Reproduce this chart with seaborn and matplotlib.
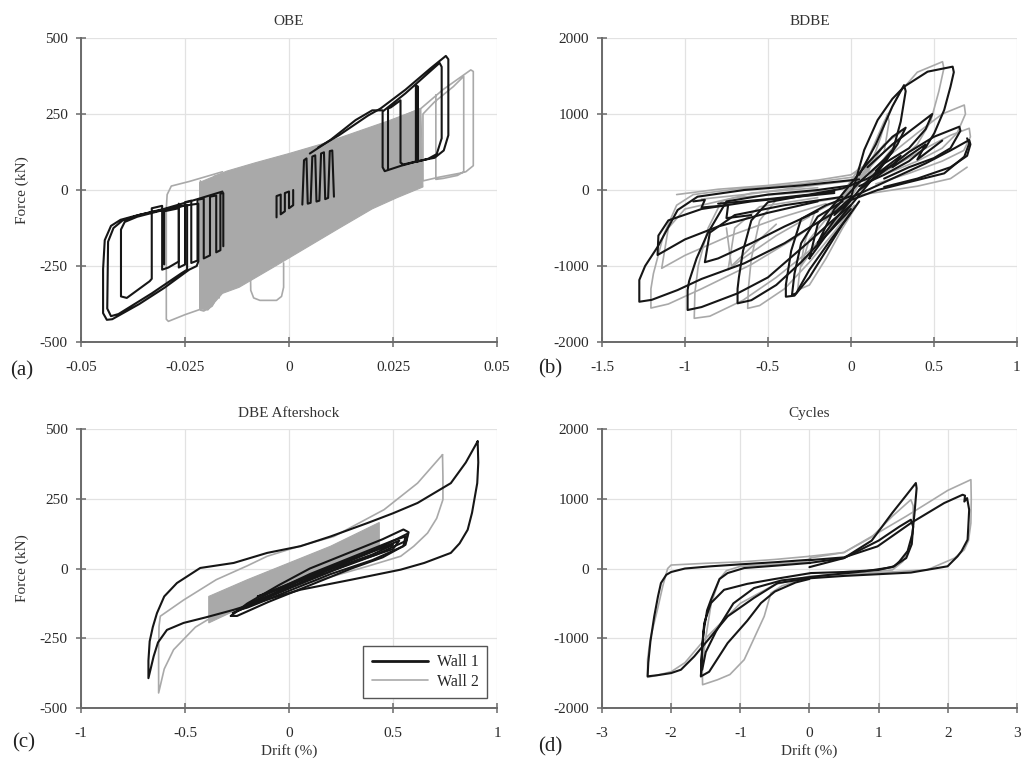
import numpy as np
import pandas as pd
import matplotlib
matplotlib.use("Agg")
import matplotlib.pyplot as plt
from matplotlib.lines import Line2D
import seaborn as sns

sns.set_style("ticks")
plt.rcParams["font.family"] = ["Liberation Serif", "DejaVu Serif"]
plt.rcParams["axes.unicode_minus"] = False

WALL1 = "#161616"
WALL2 = "#a9a9a9"

# ---------------- OBE (drift, force in kN) ----------------
obe_wall1_drift = [
    [-0.016, -0.022, -0.030, -0.037, -0.0405, -0.0428, -0.0443, -0.0447, -0.0447, -0.0438, -0.0425,
     -0.036, -0.030, -0.024, -0.0222, -0.0218, -0.0218, -0.027, -0.036, -0.040, -0.0422, -0.0435,
     -0.0437, -0.0428, -0.041, -0.033, -0.026, -0.0245, -0.0245, -0.030, -0.0365, -0.0395, -0.0404,
     -0.0404, -0.039, -0.0335, -0.033, -0.033, -0.0305, -0.0305, -0.029, -0.0265, -0.0265, -0.030, -0.030],
    [-0.0265, -0.0265, -0.025, -0.025, -0.0235, -0.0235, -0.022, -0.022, -0.0205, -0.0205, -0.019,
     -0.019, -0.0175, -0.0175, -0.0165, -0.0165, -0.0158, -0.0158],
    [-0.003, -0.003, -0.002, -0.002, -0.001, -0.001, 0.000, 0.000, 0.001, 0.001],
    [0.0032, 0.0036, 0.0042, 0.0045, 0.0052, 0.0056, 0.0063, 0.0066, 0.0073, 0.0077, 0.0084, 0.0087,
     0.0094, 0.0098, 0.0104, 0.0108],
    [0.007, 0.012, 0.019, 0.022, 0.028, 0.034, 0.0377, 0.0383, 0.0383, 0.0372, 0.035, 0.031, 0.027,
     0.023, 0.0225, 0.0225, 0.028, 0.0362, 0.0367, 0.0367, 0.0355, 0.0335, 0.0305, 0.0305, 0.031,
     0.031, 0.0275, 0.0268, 0.0268, 0.0245, 0.0238, 0.0238],
    [0.005, 0.010, 0.016, 0.020, 0.0225],
]
obe_wall1_force = [
    [-5, -30, -62, -85, -98, -118, -165, -260, -405, -427, -425, -375, -322, -262, -250, -235, -45, -55,
     -82, -100, -125, -170, -390, -415, -408, -340, -275, -262, -50, -65, -88, -105, -130, -350, -355,
     -300, -292, -60, -52, -262, -255, -235, -60, -70, -245],
    [-45, -255, -245, -40, -35, -240, -232, -32, -28, -225, -215, -22, -18, -205, -198, -12, -10, -185],
    [-90, -20, -15, -80, -70, -10, -5, -60, -50, 0],
    [-48, 98, 104, -45, -42, 110, 114, -38, -35, 120, 124, -30, -26, 128, 130, -22],
    [140, 180, 245, 268, 330, 400, 441, 430, 180, 130, 106, 95, 80, 62, 75, 258, 318, 418, 405, 170, 118,
     103, 92, 345, 340, 95, 84, 90, 295, 272, 268, 70],
    [120, 165, 230, 262, 262],
]
obe_wall2_drift = [
    [-0.016, -0.024, -0.0283, -0.0293, -0.0295, -0.0295, -0.029, -0.025, -0.0204, -0.020, -0.020],
    [-0.0213, -0.0213, -0.0205, -0.0185, -0.018, -0.018, -0.0168, -0.0168],
    [-0.0093, -0.0092, -0.0085, -0.007, -0.003, -0.0018, -0.0013, -0.0013],
    [0.026, 0.0317, 0.037, 0.0437, 0.0443, 0.0443, 0.0425, 0.041, 0.036, 0.0322, 0.0322, 0.035, 0.0395,
     0.042, 0.042, 0.0405, 0.037, 0.0353, 0.0353],
]
obe_wall2_force = [
    [60, 28, 13, -15, -60, -425, -432, -410, -388, -370, 30],
    [30, -395, -398, -382, -370, 45, 50, -355],
    [-250, -330, -355, -363, -363, -350, -320, -240],
    [235, 268, 330, 395, 390, 80, 60, 55, 42, 30, 250, 290, 340, 374, 60, 48, 38, 35, 313],
]
# envelope of the densely packed small Wall 2 cycles
obe_wall2_band_drift = [-0.0215, -0.015, -0.008, 0.000, 0.008, 0.016, 0.024, 0.0317, 0.0322, 0.026,
                        0.020, 0.012, 0.004, -0.004, -0.012, -0.016, -0.0195, -0.0215]
obe_wall2_band_force = [25, 62, 90, 120, 152, 190, 228, 268, 10, -25, -62, -126, -191, -256, -320,
                        -340, -395, -390]

# ---------------- BDBE ----------------
bdbe_wall1_drift = [
    [0.05, -0.3, -0.643, -0.924, -1.044, -1.164, -1.24, -1.275, -1.275, -1.2, -1.044, -0.9, -0.643, -0.4, -0.241, -0.04],
    [0.0, -0.2, -0.5, -0.75, -0.863, -0.93, -0.975, -0.984, -0.984, -0.9, -0.683, -0.5, -0.241, -0.1, 0.0],
    [-0.1, -0.3, -0.5, -0.6, -0.65, -0.675, -0.683, -0.683, -0.6, -0.45, -0.3, -0.15, 0.0],
    [0.0, -0.15, -0.3, -0.36, -0.385, -0.392, -0.392, -0.34, -0.25, -0.15, -0.05, 0.05],
    [-0.05, -0.2, -0.3, -0.34, -0.355, -0.33, -0.25, -0.12, 0.0],
    [-0.1, -0.6, -0.9, -1.1, -1.16, -1.165, -1.0, -0.8, -0.5, -0.2],
    [-0.05, -0.4, -0.7, -0.85, -0.88, -0.8, -0.6, -0.4, -0.2],
    [-0.95, -0.88, -0.9, -0.74, -0.75, -0.6],
    [-0.1, 0.0, 0.08, 0.161, 0.25, 0.321, 0.462, 0.613, 0.62, 0.6, 0.562, 0.502, 0.45, 0.35, 0.2, 0.05],
    [0.05, 0.15, 0.25, 0.32, 0.33, 0.3, 0.25, 0.15],
    [0.05, 0.2, 0.35, 0.5, 0.653, 0.66, 0.6, 0.5, 0.35, 0.2],
    [0.0, 0.2, 0.45, 0.6, 0.713, 0.72, 0.7, 0.6, 0.4, 0.2],
    [-0.1, 0.0, 0.161, 0.361, 0.562, 0.683, 0.713, 0.7],
    [0.1, 0.25, 0.4, 0.49, 0.45, 0.35, 0.2],
    [0.15, 0.3, 0.25, 0.45, 0.4, 0.55],
    [-0.25, -0.15, 0.0, 0.15, 0.28, 0.33, 0.25, 0.1, -0.05, -0.2, -0.25],
    [-0.2, -0.1, 0.05, 0.2, 0.26, 0.2, 0.05, -0.1, -0.2],
    [-0.8, -0.5, -0.25, -0.05, 0.1, 0.25],
]
bdbe_wall1_force = [
    [140, 60, 0, -88, -263, -746, -1000, -1184, -1470, -1445, -1316, -1170, -965, -700, -482, -218],
    [60, 0, -60, -150, -570, -900, -1200, -1316, -1579, -1540, -1360, -1150, -658, -380, -200],
    [-20, -80, -160, -400, -800, -1150, -1300, -1491, -1450, -1250, -950, -600, -250],
    [-80, -200, -380, -800, -1150, -1250, -1404, -1390, -1150, -800, -450, -150],
    [-150, -350, -700, -1100, -1380, -1360, -1050, -650, -300],
    [-40, -150, -250, -400, -600, -855, -650, -480, -300, -150],
    [-90, -200, -330, -560, -950, -900, -700, -480, -280],
    [-150, -130, -230, -200, -370, -330],
    [-300, -100, 526, 921, 1200, 1360, 1557, 1623, 1550, 1360, 1053, 746, 560, 380, 200, 50],
    [200, 600, 1100, 1380, 1300, 900, 500, 250],
    [0, 250, 500, 700, 833, 780, 550, 420, 300, 150],
    [-100, 100, 350, 520, 658, 600, 450, 300, 150, 40],
    [-330, -132, 0, 110, 219, 438, 614, 680],
    [300, 600, 850, 1000, 800, 550, 350],
    [200, 450, 300, 600, 400, 650],
    [-900, -600, -200, 200, 600, 820, 700, 350, -50, -450, -900],
    [-700, -400, 0, 350, 550, 400, 100, -250, -700],
    [-180, -120, -60, 20, 150, 320],
]
bdbe_wall2_drift = [
    [0.05, -0.3, -0.7, -0.95, -1.05, -1.13, -1.19, -1.205, -1.205, -1.1, -0.9, -0.6, -0.35, -0.15, 0.0],
    [-0.2, -0.6, -0.78, -0.86, -0.92, -0.94, -0.944, -0.85, -0.65, -0.45, -0.25, -0.1, 0.0],
    [-0.15, -0.45, -0.55, -0.6, -0.618, -0.622, -0.55, -0.4, -0.25, -0.1, 0.02],
    [-0.05, -0.22, -0.28, -0.31, -0.321, -0.25, -0.15, -0.05, 0.05],
    [-0.1, -0.7, -1.0, -1.1, -1.14, -1.0, -0.75, -0.45, -0.15],
    [-0.2, -0.55, -0.7, -0.74, -0.65, -0.45, -0.25],
    [-1.05, -0.8, -0.5, -0.2, 0.0, 0.1, 0.2, 0.3],
    [-0.9, -0.6, -0.3, 0.0, 0.1],
    [0.0, 0.1, 0.2, 0.3, 0.4, 0.552, 0.56, 0.53, 0.48, 0.4, 0.25, 0.1],
    [0.05, 0.2, 0.4, 0.55, 0.683, 0.69, 0.64, 0.55, 0.4, 0.2],
    [0.0, 0.25, 0.45, 0.6, 0.713, 0.72, 0.68, 0.55, 0.35, 0.15],
    [0.1, 0.18, 0.22, 0.23, 0.2],
    [-0.2, 0.1, 0.4, 0.6, 0.7],
    [-0.15, 0.05, -0.1, 0.1, -0.05, 0.15, 0.0, 0.2],
    [-0.3, -0.2, -0.05, 0.1, 0.25, 0.3, 0.2, 0.05, -0.1, -0.25, -0.3],
    [-0.75, -0.72, -0.6, -0.45],
]
bdbe_wall2_force = [
    [180, 80, 10, -60, -200, -600, -1100, -1300, -1553, -1500, -1300, -980, -650, -350, -120],
    [30, -40, -150, -500, -1000, -1350, -1688, -1660, -1450, -1150, -800, -450, -220],
    [-40, -130, -400, -900, -1300, -1557, -1520, -1300, -950, -550, -200],
    [-100, -300, -700, -1100, -1316, -1250, -900, -500, -150],
    [0, -100, -250, -500, -1030, -860, -620, -380, -180],
    [-100, -220, -500, -1050, -900, -600, -350],
    [-60, 10, 60, 130, 200, 350, 600, 760],
    [-120, -50, 40, 120, 250],
    [0, 400, 900, 1300, 1550, 1688, 1600, 1300, 900, 600, 300, 100],
    [100, 400, 750, 1000, 1118, 1000, 750, 550, 380, 200],
    [50, 300, 550, 720, 812, 700, 520, 380, 220, 80],
    [200, 700, 1000, 900, 500],
    [-150, -50, 50, 150, 300],
    [-400, 300, -300, 400, -200, 500, -100, 600],
    [-1000, -700, -300, 150, 550, 700, 500, 150, -250, -650, -1000],
    [-500, -1000, -750, -450],
]

# ---------------- DBE Aftershock ----------------
dbe_wall1_drift = [
    [0.907, 0.91, 0.905, 0.88, 0.859, 0.82, 0.778, 0.65, 0.537, 0.3, 0.055, -0.1, -0.266, -0.4, -0.507,
     -0.587, -0.63, -0.651, -0.676, -0.676, -0.67, -0.655, -0.635, -0.6, -0.539, -0.427, -0.266, -0.105,
     0.055, 0.2, 0.377, 0.5, 0.618, 0.778, 0.85, 0.907],
    [-0.28, -0.2, -0.05, 0.1, 0.3, 0.45, 0.55, 0.575, 0.56, 0.45, 0.3, 0.1, -0.1, -0.25, -0.28],
    [-0.25, -0.1, 0.1, 0.3, 0.5, 0.56, 0.55, 0.4, 0.2, 0.0, -0.2, -0.25],
    [-0.2, 0.0, 0.2, 0.4, 0.53, 0.5, 0.3, 0.1, -0.1, -0.2],
    [-0.27, -0.12, 0.05, 0.25, 0.45, 0.57, 0.565, 0.42, 0.22, 0.02, -0.15, -0.27],
    [-0.15, 0.0, 0.15, 0.3, 0.45, 0.5, 0.4, 0.25, 0.1, -0.05, -0.15],
]
dbe_wall1_force = [
    [456, 380, 306, 200, 139, 90, 56, 20, -4, -40, -76, -110, -148, -175, -195, -220, -265, -315, -393,
     -330, -261, -210, -160, -100, -52, 2, 20, 56, 80, 115, 163, 198, 235, 306, 380, 456],
    [-170, -125, -60, 0, 60, 105, 140, 130, 85, 40, 0, -60, -120, -170, -170],
    [-150, -90, -20, 40, 100, 115, 80, 30, -20, -80, -140, -150],
    [-130, -70, 0, 60, 100, 70, 20, -40, -100, -130],
    [-160, -105, -45, 15, 80, 125, 100, 50, -5, -65, -120, -160],
    [-100, -55, -10, 35, 75, 85, 50, 10, -30, -75, -100],
]
dbe_wall2_drift = [
    [0.738, 0.74, 0.74, 0.71, 0.666, 0.6, 0.537, 0.377, 0.2, 0.0, -0.2, -0.35, -0.45, -0.555, -0.6,
     -0.627, -0.627, -0.625, -0.619, -0.507, -0.35, -0.2, -0.105, 0.05, 0.216, 0.457, 0.618, 0.738],
]
dbe_wall2_force = [
    [408, 330, 247, 180, 127, 80, 44, 8, -30, -70, -120, -165, -210, -291, -360, -446, -300, -207, -171,
     -113, -40, 10, 44, 80, 115, 211, 306, 408],
]
dbe_wall2_band_drift = [-0.386, -0.386, -0.2, 0.0, 0.2, 0.434, 0.434, 0.2, 0.0, -0.2, -0.386]
dbe_wall2_band_force = [-195, -100, -40, 20, 80, 165, 80, 0, -60, -130, -195]

# ---------------- Cycles ----------------
cyc_wall1_drift = [
    [0.0, 0.5, 0.986, 1.467, 1.949, 2.215, 2.25, 2.24, 2.28, 2.31, 2.3, 2.287, 2.2, 2.142, 1.998, 1.467,
     0.503, 0.0, -0.46, -0.8, -1.183, -1.424, -1.665, -1.858, -2.0, -2.2, -2.34, -2.33, -2.3, -2.244,
     -2.19, -2.147, -2.07, -2.0, -1.8, -1.424, -1.0, -0.5, 0.021],
    [0.0, 0.5, 0.9, 1.2, 1.4, 1.539, 1.55, 1.52, 1.49, 1.42, 1.3, 1.226, 1.0, 0.5, 0.021, -0.5, -0.9,
     -1.234, -1.424, -1.521, -1.55, -1.569, -1.56, -1.53, -1.48, -1.424, -1.3, -1.183, -0.943, -0.5, 0.0],
    [-1.569, -1.45, -1.183, -0.9, -0.701, -0.5, -0.2, 0.0],
    [0.0, 0.5, 1.0, 1.3, 1.467, 1.5, 1.48, 1.4, 1.2, 0.8, 0.2, -0.4, -0.8, -1.1, -1.35, -1.5, -1.55],
]
cyc_wall1_force = [
    [120, 160, 318, 652, 939, 1058, 1045, 960, 1010, 843, 650, 413, 250, 175, 32, -58, -106, -140, -209,
     -420, -686, -974, -1260, -1451, -1499, -1530, -1546, -1350, -1050, -686, -400, -209, -90, -50, 0,
     32, 60, 90, 127],
    [80, 150, 400, 800, 1050, 1226, 1150, 800, 500, 250, 100, 32, -20, -50, -65, -150, -220, -305, -495,
     -782, -1100, -1546, -1300, -900, -600, -448, -150, -65, 7, 40, 80],
    [-1546, -1480, -1069, -750, -495, -330, -200, -150],
    [20, 150, 400, 600, 700, 600, 350, 150, 20, -40, -100, -170, -280, -500, -900, -1200, -1450],
]
cyc_wall2_drift = [
    [0.0, 0.5, 0.986, 1.4, 1.708, 2.0, 2.335, 2.34, 2.335, 2.3, 2.239, 2.1, 1.708, 1.0, 0.0, -0.5, -1.0,
     -1.5, -1.8, -2.0, -2.2, -2.34, -2.34, -2.3, -2.2, -2.12, -2.05, -2.0, -1.5, -1.0, -0.5, 0.0],
    [0.0, 0.5, 0.9, 1.2, 1.467, 1.5, 1.5, 1.45, 1.35, 1.2, 0.5, 0.0, -0.4, -0.557, -0.654, -0.8, -0.943,
     -1.15, -1.327, -1.545, -1.55, -1.5, -1.42, -1.3, -1.2, -1.0, -0.5, 0.0],
]
cyc_wall2_force = [
    [175, 230, 509, 750, 939, 1120, 1274, 1000, 652, 400, 270, 150, -17, -60, -110, -230, -500, -1000,
     -1350, -1480, -1530, -1560, -1300, -1000, -600, -250, 0, 50, 75, 95, 130, 175],
    [150, 230, 450, 750, 987, 900, 600, 300, 100, -20, -90, -120, -250, -352, -686, -1000, -1307, -1520,
     -1594, -1666, -1400, -1000, -500, -150, -30, 30, 60, 100],
]

# axis scales and labels
obe_xticks = [-0.05, -0.025, 0, 0.025, 0.05]
obe_xlabels = ["-0.05", "-0.025", "0", "0.025", "0.05"]
bdbe_xticks = [-1.5, -1, -0.5, 0, 0.5, 1]
bdbe_xlabels = ["-1.5", "-1", "-0.5", "0", "0.5", "1"]
dbe_xticks = [-1, -0.5, 0, 0.5, 1]
dbe_xlabels = ["-1", "-0.5", "0", "0.5", "1"]
cyc_xticks = [-3, -2, -1, 0, 1, 2, 3]
cyc_xlabels = ["-3", "-2", "-1", "0", "1", "2", "3"]
small_yticks = [-500, -250, 0, 250, 500]
small_ylabels = ["-500", "-250", "0", "250", "500"]
large_yticks = [-2000, -1000, 0, 1000, 2000]
large_ylabels = ["-2000", "-1000", "0", "1000", "2000"]


def to_frame(drift_segs, force_segs):
    parts = [pd.DataFrame({"drift": d, "force": f, "seg": i})
             for i, (d, f) in enumerate(zip(drift_segs, force_segs))]
    return pd.concat(parts, ignore_index=True)


def draw_wall(ax, drift_segs, force_segs, color, lw, z):
    sns.lineplot(data=to_frame(drift_segs, force_segs), x="drift", y="force", units="seg",
                 estimator=None, sort=False, color=color, linewidth=lw, ax=ax, zorder=z)


fig = plt.figure(figsize=(10.22, 7.66), dpi=100)
ax_a = fig.add_axes([0.0793, 0.5535, 0.407, 0.3969])
ax_b = fig.add_axes([0.589, 0.5535, 0.406, 0.3969])
ax_c = fig.add_axes([0.0793, 0.0757, 0.407, 0.3642])
ax_d = fig.add_axes([0.589, 0.0757, 0.406, 0.3642])

panels = [
    (ax_a, "OBE", obe_wall1_drift, obe_wall1_force, obe_wall2_drift, obe_wall2_force,
     (obe_wall2_band_drift, obe_wall2_band_force), obe_xticks, obe_xlabels, small_yticks, small_ylabels),
    (ax_b, "BDBE", bdbe_wall1_drift, bdbe_wall1_force, bdbe_wall2_drift, bdbe_wall2_force,
     None, bdbe_xticks, bdbe_xlabels, large_yticks, large_ylabels),
    (ax_c, "DBE Aftershock", dbe_wall1_drift, dbe_wall1_force, dbe_wall2_drift, dbe_wall2_force,
     (dbe_wall2_band_drift, dbe_wall2_band_force), dbe_xticks, dbe_xlabels, small_yticks, small_ylabels),
    (ax_d, "Cycles", cyc_wall1_drift, cyc_wall1_force, cyc_wall2_drift, cyc_wall2_force,
     None, cyc_xticks, cyc_xlabels, large_yticks, large_ylabels),
]

for ax, title, w1d, w1f, w2d, w2f, band, xt, xl, yt, yl in panels:
    if band is not None:
        ax.fill(band[0], band[1], color=WALL2, lw=0.8, ec=WALL2, zorder=2)
    draw_wall(ax, w2d, w2f, WALL2, 1.2, 3)
    draw_wall(ax, w1d, w1f, WALL1, 1.5, 4)
    ax.set_xlim(xt[0], xt[-1])
    ax.set_ylim(yt[0], yt[-1])
    ax.set_xticks(xt)
    ax.set_xticklabels(xl)
    ax.set_yticks(yt)
    ax.set_yticklabels(yl)
    ax.set_xlabel("")
    ax.set_ylabel("")
    ax.set_title(title, fontsize=11, color="#333333", pad=9)
    ax.grid(True, color="#e2e2e2", lw=0.9, zorder=0)
    ax.set_axisbelow(True)
    for side in ("top", "right"):
        ax.spines[side].set_visible(False)
    for side in ("left", "bottom"):
        ax.spines[side].set_color("#6a6a6a")
        ax.spines[side].set_linewidth(1.4)
    ax.tick_params(direction="inout", length=7, width=1.1, color="#6a6a6a",
                   labelsize=11, labelcolor="#2a2a2a")
    ax.tick_params(axis="x", pad=10)
    ax.tick_params(axis="y", pad=6)

for ax in (ax_a, ax_c):
    ax.set_ylabel("Force (kN)", fontsize=11, color="#333333", labelpad=8)
for ax in (ax_c, ax_d):
    ax.set_xlabel("Drift (%)", fontsize=11, color="#333333", labelpad=3)

handles = [Line2D([], [], color=WALL1, lw=2.0), Line2D([], [], color=WALL2, lw=1.2)]
leg = ax_c.legend(handles, ["Wall 1", "Wall 2"], loc="lower right", fontsize=11.5,
                  frameon=True, fancybox=False, framealpha=1, edgecolor="#555555",
                  handlelength=3.5, handletextpad=0.55, labelspacing=0.2, borderpad=0.55,
                  borderaxespad=0.6)
leg.get_frame().set_linewidth(1.0)

for label, x, y in [("(a)", 0.010, 0.516), ("(b)", 0.527, 0.518), ("(c)", 0.012, 0.030),
                    ("(d)", 0.527, 0.025)]:
    fig.text(x, y, label, fontsize=15, color="#222222", ha="left", va="center")

fig.savefig("out.png", dpi=100)
